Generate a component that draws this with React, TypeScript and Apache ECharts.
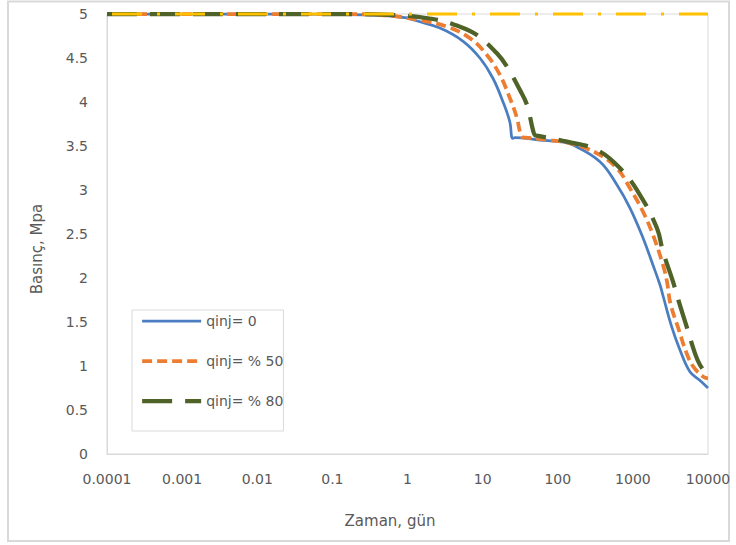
import React, { useEffect, useRef } from "react";
import * as echarts from "echarts";

// Time (days) and pressure (MPa) readings for each injection ratio
const qinj0: [number, number][] = [
  [0.0001, 5], [0.001, 5], [0.01, 5], [0.1, 4.995], [0.43, 4.985], [1, 4.955],
  [1.18, 4.935], [2.7, 4.84], [5.5, 4.69], [9.2, 4.5], [13.7, 4.27], [18.7, 4.0],
  [23, 3.775], [25, 3.587], [27, 3.594], [58, 3.568], [107, 3.549], [160, 3.511],
  [365, 3.322], [615, 3.057], [916, 2.795], [1365, 2.455], [1850, 2.148], [2300, 1.92],
  [2540, 1.787], [3280, 1.447], [4235, 1.182], [5750, 0.935], [7700, 0.84], [10000, 0.75],
];

const qinj50: [number, number][] = [
  [0.0001, 5], [0.001, 5], [0.01, 5], [0.1, 5], [0.5, 4.985], [1.47, 4.93],
  [3.36, 4.856], [6.8, 4.724], [11.4, 4.534], [17, 4.307], [23.1, 4.042], [28.7, 3.815],
  [31.4, 3.663], [34, 3.6], [39, 3.594], [70, 3.57], [146, 3.531], [333, 3.417],
  [615, 3.247], [916, 3.019], [1365, 2.753], [1853, 2.489], [2518, 2.148], [2846, 1.958],
  [3160, 1.71], [4030, 1.428], [5200, 1.144], [6370, 0.992], [8650, 0.878], [10000, 0.86],
];

const qinj80: [number, number][] = [
  [0.0001, 5], [0.001, 5], [0.01, 5], [0.1, 5], [0.6, 4.99], [2.18, 4.943],
  [5, 4.856], [8.4, 4.761], [15.5, 4.553], [21.1, 4.401], [31.4, 4.136], [39, 3.966],
  [46.8, 3.68], [50, 3.62], [53, 3.617], [133, 3.549], [333, 3.455], [675, 3.247],
  [1245, 2.943], [2094, 2.565], [2518, 2.3], [3420, 1.958], [4030, 1.75], [5200, 1.447],
  [6710, 1.144], [7830, 1.011], [9550, 0.917], [10000, 0.91],
];

const initialPressure: [number, number][] = [
  [0.0001, 5], [1, 5], [10000, 5],
];

const seriesNames = ["qinj= 0", "qinj= % 50", "qinj= % 80"];
const xTickLabels = ["0.0001", "0.001", "0.01", "0.1", "1", "10", "100", "1000", "10000"];
const xTitle = "Zaman, gün";
const yTitle = "Basınç, Mpa";

const FONT = "DejaVu Sans";
const TEXT = "#595959";
const RULE = "#D9D9D9";

// Per-series line look: colour, width, dash pattern
const styles = [
  { color: "#4A7EC1", width: 2.75, type: "solid" as any },
  { color: "#ED7D31", width: 3.75, type: [10, 5] as any },
  { color: "#4F6228", width: 4.25, type: [30, 13] as any },
];

export default function App() {
  const ref = useRef<HTMLDivElement>(null);

  useEffect(() => {
    if (!ref.current) return;
    const chart = echarts.init(ref.current, undefined, { renderer: "svg" });

    const lineSeries = (
      name: string,
      data: [number, number][],
      color: string,
      width: number,
      type: any,
      extra: any = {}
    ) => ({
      name,
      type: "line",
      data,
      showSymbol: false,
      symbol: "none",
      smooth: 0.4,
      clip: false,
      lineStyle: { color, width, type, cap: "butt", ...extra },
      itemStyle: { color },
      emphasis: { disabled: true },
    });

    chart.setOption({
      animation: false,
      backgroundColor: "#ffffff",
      textStyle: { fontFamily: FONT, color: TEXT },
      grid: {
        left: 107,
        right: 28,
        top: 14,
        bottom: 91,
        show: true,
        borderColor: RULE,
        borderWidth: 1,
        outerBoundsMode: "none",
      },
      xAxis: {
        type: "log",
        logBase: 10,
        min: 0.0001,
        max: 10000,
        axisLine: { show: true, lineStyle: { color: RULE, width: 1 } },
        axisTick: { show: false },
        splitLine: { show: false },
        minorTick: { show: false },
        axisLabel: {
          margin: 18,
          fontSize: 14,
          fontFamily: FONT,
          color: TEXT,
          showMinLabel: true,
          showMaxLabel: true,
          formatter: (v: number) => {
            const i = Math.round(Math.log10(v)) + 4;
            return xTickLabels[i] ?? "";
          },
        },
      },
      yAxis: {
        type: "value",
        min: 0,
        max: 5,
        interval: 0.5,
        axisLine: { show: true, lineStyle: { color: RULE, width: 1 } },
        axisTick: { show: false },
        splitLine: { show: false },
        axisLabel: { margin: 19, fontSize: 14, fontFamily: FONT, color: TEXT },
      },
      legend: {
        data: seriesNames.map((name, i) => ({
          name,
          lineStyle: { width: styles[i].width, type: styles[i].type, color: styles[i].color },
        })),
        orient: "vertical",
        left: 132,
        top: 310,
        itemWidth: 59,
        itemHeight: 14,
        itemGap: 26,
        padding: [4, 0, 23, 8],
        backgroundColor: "#ffffff",
        borderColor: RULE,
        borderWidth: 1,
        borderRadius: 0,
        selectedMode: false,
        itemStyle: { opacity: 0 },
        textStyle: { fontSize: 14, fontFamily: FONT, color: TEXT },
      },
      graphic: [
        {
          type: "rect",
          shape: { x: 8, y: 1.5, width: 721, height: 539.5 },
          style: { fill: "none", stroke: RULE, lineWidth: 2 },
          silent: true,
          z: 0,
        },
        {
          type: "text",
          x: 390,
          y: 521,
          style: {
            text: xTitle,
            fontSize: 15,
            fontFamily: FONT,
            fill: TEXT,
            align: "center",
            verticalAlign: "middle",
          },
        },
        {
          type: "text",
          x: 37,
          y: 249,
          rotation: Math.PI / 2,
          style: {
            text: yTitle,
            fontSize: 15,
            fontFamily: FONT,
            fill: TEXT,
            align: "center",
            verticalAlign: "middle",
          },
        },
      ],
      series: [
        lineSeries(seriesNames[0], qinj0, styles[0].color, styles[0].width, styles[0].type),
        lineSeries(seriesNames[1], qinj50, styles[1].color, styles[1].width, styles[1].type),
        lineSeries(seriesNames[2], qinj80, styles[2].color, styles[2].width, styles[2].type),
        {
          ...lineSeries("Başlangıç basıncı", initialPressure, "#FFC000", 3, [30, 15, 3, 15], {
            dashOffset: -5,
          }),
          smooth: false,
        },
      ],
    });

    return () => chart.dispose();
  }, []);

  return (
    <div
      ref={ref}
      style={{ position: "fixed", left: 0, top: 0, width: 736, height: 545, background: "#fff" }}
    />
  );
}
